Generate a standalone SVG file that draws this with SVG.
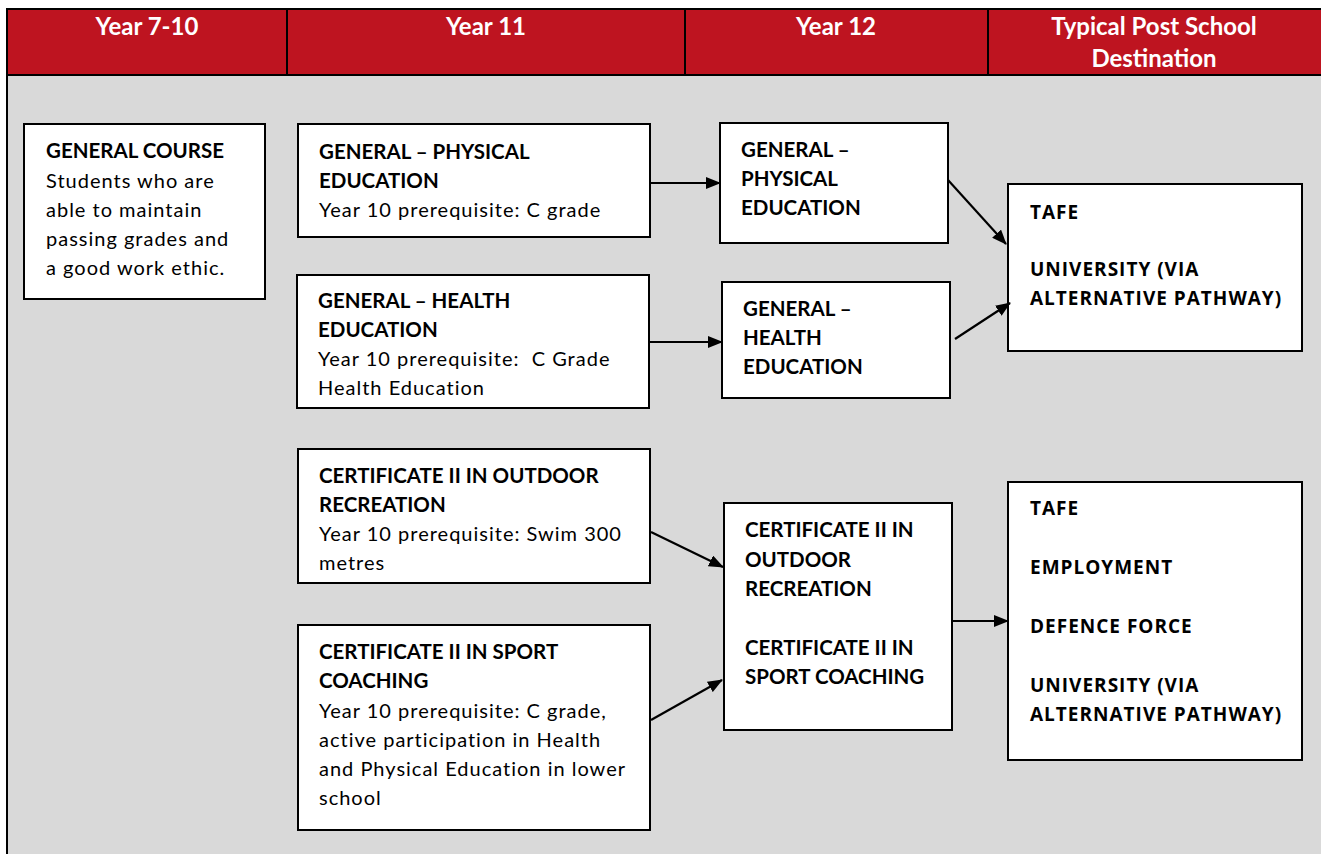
<svg xmlns="http://www.w3.org/2000/svg" width="1321" height="854" viewBox="0 0 1321 854">
<defs>
<style>
.hdr{fill:#BE1420;stroke:#000;stroke-width:2}
.ht{font-family:Lato,"Liberation Sans",sans-serif;font-weight:bold;font-size:24px;fill:#fff;text-anchor:middle}
.box{fill:#fff;stroke:#000;stroke-width:2}
.t{font-family:Lato,"Liberation Sans",sans-serif;font-size:20px;fill:#000;letter-spacing:1px}
.b{font-weight:bold;font-size:20.5px;letter-spacing:0}
.d{font-family:"Open Sans","Liberation Sans",sans-serif;font-weight:bold;font-size:19px;fill:#000;letter-spacing:1px}
.c{stroke:#000;stroke-width:2.2;fill:none;marker-end:url(#ah)}
</style>
<marker id="ah" viewBox="0 0 15 12" refX="14" refY="6" markerWidth="15" markerHeight="12" markerUnits="userSpaceOnUse" orient="auto">
<path d="M0,0 L15,6 L0,12 z" fill="#000"/>
</marker>
</defs>
<rect x="0" y="0" width="1321" height="854" fill="#fff"/>
<rect x="7" y="75" width="1320" height="790" fill="#D9D9D9" stroke="#000" stroke-width="2"/>
<g id="header">
<rect class="hdr" x="7" y="9" width="280" height="66"/>
<rect class="hdr" x="287" y="9" width="398" height="66"/>
<rect class="hdr" x="685" y="9" width="303" height="66"/>
<rect class="hdr" x="988" y="9" width="340" height="66"/>
<text class="ht" x="147" y="35">Year 7-10</text>
<text class="ht" x="486" y="35">Year 11</text>
<text class="ht" x="836" y="35">Year 12</text>
<text class="ht" x="1154" y="35">Typical Post School</text>
<text class="ht" x="1154" y="67">Destination</text>
</g>
<g id="general-course">
<rect class="box" x="24" y="124" width="241" height="175"/>
<text class="t"><tspan class="b" x="46" y="158">GENERAL COURSE</tspan><tspan x="46" y="188">Students who are</tspan><tspan x="46" y="217">able to maintain</tspan><tspan x="46" y="246">passing grades and</tspan><tspan x="46" y="275">a good work ethic.</tspan></text>
</g>
<g id="y11-pe">
<rect class="box" x="298" y="124" width="352" height="113"/>
<text class="t"><tspan class="b" x="319" y="159">GENERAL – PHYSICAL</tspan><tspan class="b" x="319" y="188">EDUCATION</tspan><tspan x="319" y="217">Year 10 prerequisite: C grade</tspan></text>
</g>
<g id="y11-he">
<rect class="box" x="297" y="275" width="352" height="133"/>
<text class="t"><tspan class="b" x="318" y="308">GENERAL – HEALTH</tspan><tspan class="b" x="318" y="337">EDUCATION</tspan><tspan x="318" y="366">Year 10 prerequisite:&#160; C Grade</tspan><tspan x="318" y="395">Health Education</tspan></text>
</g>
<g id="y11-outdoor">
<rect class="box" x="298" y="449" width="352" height="134"/>
<text class="t"><tspan class="b" x="319" y="483">CERTIFICATE II IN OUTDOOR</tspan><tspan class="b" x="319" y="512">RECREATION</tspan><tspan x="319" y="541">Year 10 prerequisite: Swim 300</tspan><tspan x="319" y="570">metres</tspan></text>
</g>
<g id="y11-sport">
<rect class="box" x="298" y="625" width="352" height="205"/>
<text class="t"><tspan class="b" x="319" y="659">CERTIFICATE II IN SPORT</tspan><tspan class="b" x="319" y="688">COACHING</tspan><tspan x="319" y="718">Year 10 prerequisite: C grade,</tspan><tspan x="319" y="747">active participation in Health</tspan><tspan x="319" y="776">and Physical Education in lower</tspan><tspan x="319" y="805">school</tspan></text>
</g>
<g id="y12-pe">
<rect class="box" x="720" y="123" width="228" height="120"/>
<text class="t b"><tspan x="741" y="157">GENERAL –</tspan><tspan x="741" y="186">PHYSICAL</tspan><tspan x="741" y="215">EDUCATION</tspan></text>
</g>
<g id="y12-he">
<rect class="box" x="722" y="282" width="228" height="116"/>
<text class="t b"><tspan x="743" y="316">GENERAL –</tspan><tspan x="743" y="345">HEALTH</tspan><tspan x="743" y="374">EDUCATION</tspan></text>
</g>
<g id="y12-cert">
<rect class="box" x="724" y="503" width="228" height="227"/>
<text class="t b"><tspan x="745" y="537">CERTIFICATE II IN</tspan><tspan x="745" y="567">OUTDOOR</tspan><tspan x="745" y="596">RECREATION</tspan><tspan x="745" y="655">CERTIFICATE II IN</tspan><tspan x="745" y="684">SPORT COACHING</tspan></text>
</g>
<g id="dest-1">
<rect class="box" x="1008" y="184" width="294" height="167"/>
<text class="d"><tspan x="1030" y="219">TAFE</tspan><tspan x="1030" y="276">UNIVERSITY (VIA</tspan><tspan x="1030" y="305">ALTERNATIVE PATHWAY)</tspan></text>
</g>
<g id="dest-2">
<rect class="box" x="1008" y="482" width="294" height="278"/>
<text class="d"><tspan x="1030" y="515">TAFE</tspan><tspan x="1030" y="574">EMPLOYMENT</tspan><tspan x="1030" y="633">DEFENCE FORCE</tspan><tspan x="1030" y="692">UNIVERSITY (VIA</tspan><tspan x="1030" y="721">ALTERNATIVE PATHWAY)</tspan></text>
</g>
<g id="connectors">
<line class="c" x1="651" y1="183" x2="720" y2="183"/>
<line class="c" x1="650" y1="342" x2="722" y2="342"/>
<line class="c" x1="651" y1="532" x2="723" y2="567"/>
<line class="c" x1="651" y1="720" x2="722" y2="680"/>
<line class="c" x1="948" y1="180" x2="1006" y2="244"/>
<line class="c" x1="955" y1="339" x2="1010" y2="303"/>
<line class="c" x1="953" y1="621" x2="1008" y2="621"/>
</g>
</svg>
